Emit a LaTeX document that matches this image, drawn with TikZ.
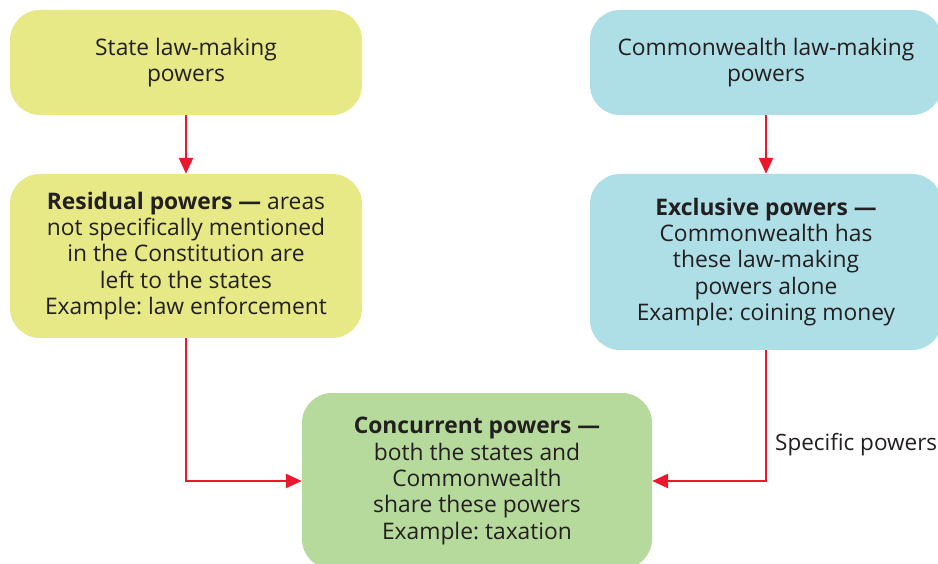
\documentclass[tikz,border=0pt]{standalone}
\usepackage{fontspec}
\setmainfont{Open Sans}
\usetikzlibrary{arrows.meta}
\frenchspacing
\definecolor{ylw}{HTML}{E6E985}
\definecolor{blu}{HTML}{AEDFE6}
\definecolor{grn}{HTML}{B6DA9C}
\definecolor{arr}{HTML}{E8192C}
\definecolor{txt}{HTML}{231F20}
\tikzset{
  box/.style={rounded corners=30pt, inner sep=0pt, align=center, text=txt,
    font=\fontsize{22.8}{26.4}\selectfont},
  link/.style={draw=arr, line width=2.7pt, -{Triangle[length=16pt,width=14pt]}},
  lbl/.style={text=txt, font=\fontsize{22.5}{26}\selectfont, inner sep=0pt, anchor=west}
}
\begin{document}
\begin{tikzpicture}[x=1pt,y=-1pt]
\useasboundingbox (0,0) rectangle (938,564);
\clip (0,0) rectangle (938,564);
\fill[white] (0,0) rectangle (938,564);
\node[box, fill=ylw, minimum width=352pt, minimum height=105pt] (state) at (186,62.5)
  {State law-making\\powers};
\node[box, fill=blu, minimum width=352pt, minimum height=105pt] (cw) at (766,62.5)
  {Commonwealth law-making\\powers};
\node[box, fill=ylw, minimum width=352pt, minimum height=164pt] (resid) at (186,256)
  {\textbf{Residual powers —} areas\\not specifically mentioned\\in the Constitution are\\left to the states\\Example: law enforcement};
\node[box, fill=blu, minimum width=352pt, minimum height=176pt] (excl) at (766,262)
  {\textbf{Exclusive powers —}\\Commonwealth has\\these law-making\\powers alone\\Example: coining money};
\node[box, fill=grn, minimum width=350pt, minimum height=176pt] (conc) at (477,481)
  {\textbf{Concurrent powers —}\\both the states and\\Commonwealth\\share these powers\\Example: taxation};
\draw[link] (state) -- (resid);
\draw[link] (cw) -- (excl);
\draw[link] (resid.south) |- (conc.west);
\draw[link] (excl.south) |- (conc.east);
\node[lbl] (spec) at (775,445) {Specific powers};
\end{tikzpicture}
\end{document}
